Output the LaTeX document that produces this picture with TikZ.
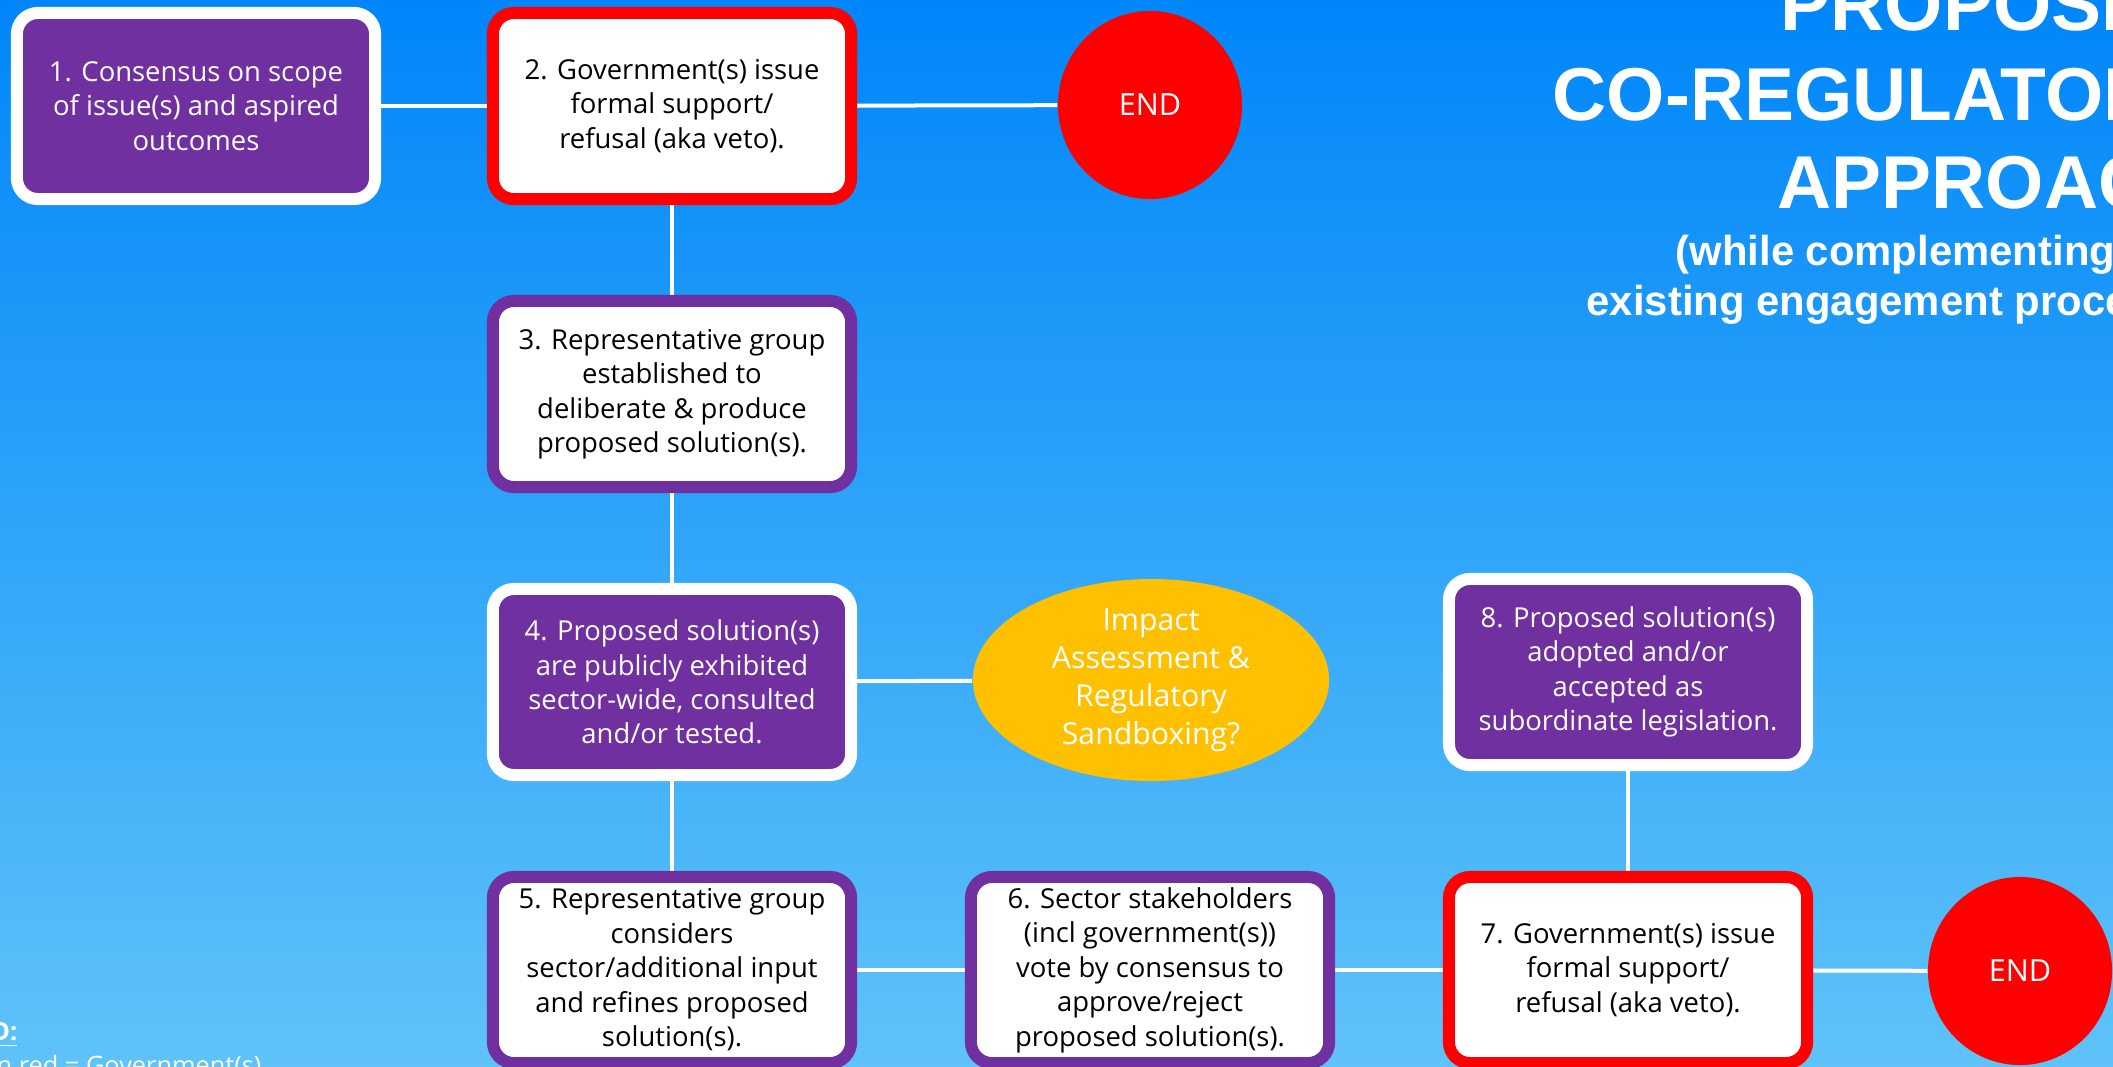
\documentclass[tikz,border=0pt]{standalone}
\usepackage{fontspec}
\setmainfont{Open Sans}
\newfontfamily\titlefont{Liberation Sans}
\usepackage{tikz}
\usetikzlibrary{shapes.geometric, backgrounds}
\definecolor{coregpurple}{RGB}{112, 48, 160}
\definecolor{coregred}{RGB}{255, 0, 0}
\definecolor{coreggold}{RGB}{255, 192, 0}
\definecolor{skytop}{RGB}{0, 134, 250}
\definecolor{skymid}{RGB}{10, 155, 248}
\definecolor{skybottom}{RGB}{95, 195, 248}

\begin{document}
\begin{tikzpicture}[x=0.01cm, y=-0.01cm,
    card/.style={rectangle, rounded corners=0.21cm, line width=0.12cm,
      minimum width=3.58cm, minimum height=1.86cm, inner sep=0.05cm,
      align=center, font=\fontsize{7.8}{9.8}\selectfont},
    stepbox/.style={card, draw=white, fill=coregpurple, text=white},
    groupbox/.style={card, draw=coregpurple, fill=white, text=black},
    govbox/.style={card, draw=coregred, fill=white, text=black},
    endnode/.style={ellipse, fill=coregred, text=white, inner sep=0pt,
      minimum width=1.84cm, minimum height=1.88cm,
      font=\fontsize{8.7}{10}\selectfont},
    link/.style={draw=white, line width=0.04cm},
    titleline/.style={anchor=base west, text=white, inner sep=0pt,
      font=\titlefont\bfseries\fontsize{21.3}{25}\selectfont},
    subline/.style={anchor=base west, text=white, inner sep=0pt,
      font=\titlefont\bfseries\fontsize{11.9}{14}\selectfont}
  ]
    \useasboundingbox (0,0) rectangle (2113,1066);
    \clip (0,0) rectangle (2113,1066);

    % top row
    \node[stepbox] (step1) at (196,106) {1. Consensus on scope\\of issue(s) and aspired\\outcomes};
    \node[govbox] (gov2) at (672,106) {2. Government(s) issue\\formal support/\\refusal (aka veto).};
    \node[endnode] (end1) at (1150,105) {END};

    % middle column
    \node[groupbox] (group3) at (672,394) {3. Representative group\\established to\\deliberate \& produce\\proposed solution(s).};
    \node[stepbox] (step4) at (672,682) {4. Proposed solution(s)\\are publicly exhibited\\sector-wide, consulted\\and/or tested.};
    \node[ellipse, fill=coreggold, text=white, inner sep=0pt,
          minimum width=3.56cm, minimum height=1.89cm, align=center,
          font=\fontsize{8.6}{10.8}\selectfont] (impact) at (1151,680)
      {Impact\\Assessment \&\\Regulatory\\Sandboxing?};

    % bottom row
    \node[groupbox] (group5) at (672,970) {5. Representative group\\considers\\sector/additional input\\and refines proposed\\solution(s).};
    \node[groupbox] (vote6) at (1150,970) {6. Sector stakeholders\\(incl government(s))\\vote by consensus to\\approve/reject\\proposed solution(s).};
    \node[govbox] (gov7) at (1628,970) {7. Government(s) issue\\formal support/\\refusal (aka veto).};
    \node[endnode] (end2) at (2020,971) {END};
    \node[stepbox] (step8) at (1628,672) {8. Proposed solution(s)\\adopted and/or\\accepted as\\subordinate legislation.};

    % title
    \node[titleline] (title1) at (1780,30) {PROPOSED};
    \node[titleline] (title2) at (1552,120) {CO-REGULATORY};
    \node[titleline] (title3) at (1777,208) {APPROACH};
    \node[subline] (sub1) at (1675,265) {(while complementing the};
    \node[subline] (sub2) at (1586,315) {existing engagement processes)};

    % legend
    \node[anchor=base east, text=white, inner sep=0pt,
          font=\bfseries\fontsize{7.2}{9}\selectfont] (legend) at (18,1040)
      {\underline{LEGEND:}};
    \node[anchor=base east, text=white, inner sep=0pt,
          font=\fontsize{7.2}{9}\selectfont] (legendred) at (262,1074)
      {Outlined in red = Government(s)};

    \begin{scope}[on background layer]
      \shade[top color=skytop, middle color=skymid, bottom color=skybottom]
        (0,0) rectangle (2113,1066);
      \draw[link] (step1) -- (gov2);
      \draw[link] (gov2) -- (end1);
      \draw[link] (gov2) -- (group3);
      \draw[link] (group3) -- (step4);
      \draw[link] (step4) -- (impact);
      \draw[link] (step4) -- (group5);
      \draw[link] (group5) -- (vote6);
      \draw[link] (vote6) -- (gov7);
      \draw[link] (gov7) -- (end2);
      \draw[link] (gov7) -- (step8);
    \end{scope}
  \end{tikzpicture}
\end{document}
